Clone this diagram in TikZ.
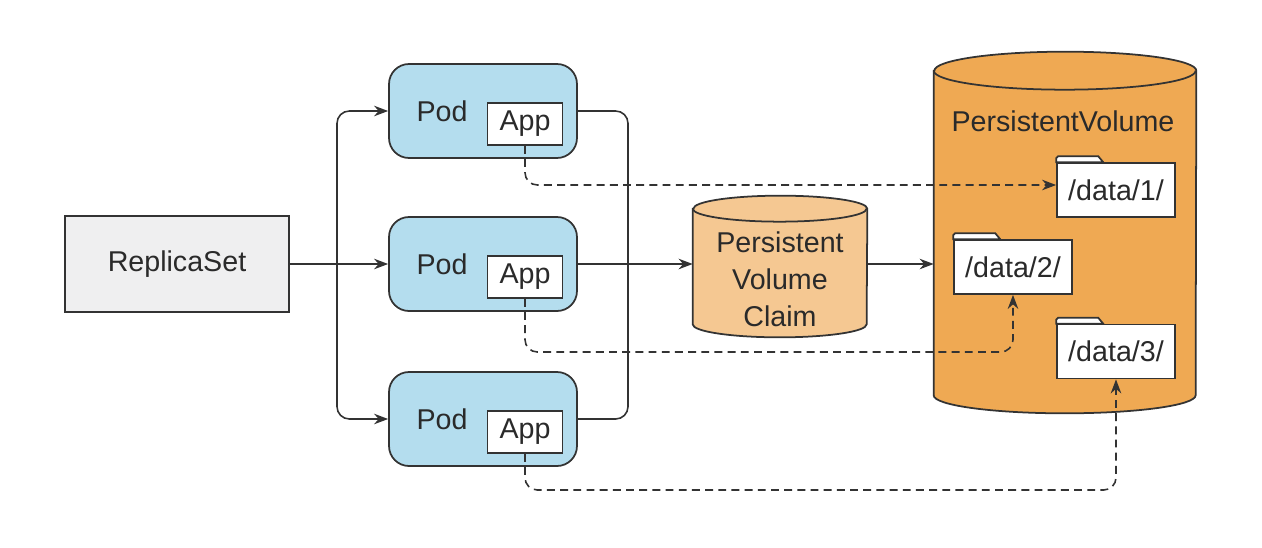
\documentclass[tikz,border=0pt]{standalone}
\usepackage{fontspec}
\setmainfont{Liberation Sans}
\usetikzlibrary{arrows.meta}

\definecolor{linegray}{HTML}{333333}
\definecolor{textgray}{HTML}{2A2A2A}
\definecolor{rsgray}{HTML}{EFEFF0}
\definecolor{podblue}{HTML}{B4DDEE}
\definecolor{pvcorange}{HTML}{F5C892}
\definecolor{pvorange}{HTML}{EFA953}

\tikzset{
  every node/.style={text=textgray, font=\fontsize{16.3}{21}\selectfont},
  rsbox/.style={draw=linegray, line width=1pt, fill=rsgray, minimum width=4.48cm, minimum height=1.92cm},
  pod/.style={draw=linegray, line width=1pt, fill=podblue, rounded corners=0.4cm, minimum width=3.76cm, minimum height=1.88cm},
  app/.style={draw=linegray, line width=1pt, fill=white, inner sep=0pt, minimum width=1.5cm, minimum height=0.84cm},
  folder/.style={draw=linegray, line width=1pt, fill=white, inner sep=0pt, minimum width=2.36cm, minimum height=1.08cm},
  cyl/.style={draw=linegray, line width=1pt},
  link/.style={draw=linegray, line width=0.9pt, -{Stealth[length=8pt,width=6pt]}},
  datalink/.style={link, dash pattern=on 4.5pt off 3pt, rounded corners=7pt},
}

\begin{document}
\begin{tikzpicture}[x=0.02cm, y=-0.02cm]
  \useasboundingbox (0,0) rectangle (1262,548);

  % volumes
  \node[minimum width=5.24cm, minimum height=6.48cm] (pv) at (1065,233) {};
  \filldraw[cyl, fill=pvorange] (pv.north west) -- (pv.south west)
    arc[start angle=180, end angle=360, x radius=2.62cm, y radius=0.36cm]
    -- (pv.north east)
    arc[start angle=0, end angle=180, x radius=2.62cm, y radius=0.38cm] -- cycle;
  \draw[cyl] (pv.north west) arc[start angle=180, end angle=360, x radius=2.62cm, y radius=0.38cm];
  \node (pvlabel) at (1063,121) {PersistentVolume};

  \node[minimum width=3.48cm, minimum height=2.3cm] (pvc) at (780,266.5) {};
  \filldraw[cyl, fill=pvcorange] (pvc.north west) -- (pvc.south west)
    arc[start angle=180, end angle=360, x radius=1.74cm, y radius=0.26cm]
    -- (pvc.north east)
    arc[start angle=0, end angle=180, x radius=1.74cm, y radius=0.26cm] -- cycle;
  \draw[cyl] (pvc.north west) arc[start angle=180, end angle=360, x radius=1.74cm, y radius=0.26cm];
  \node[align=center] (pvclabel) at (780,279) {Persistent\\Volume\\Claim};

  % folders
  \node[folder] (f1) at (1116,190) {/data/1/};
  \node[folder] (f2) at (1013,267) {/data/2/};
  \node[folder] (f3) at (1116,351.5) {/data/3/};
  \foreach \f in {f1,f2,f3} {
    \filldraw[cyl, fill=white] (\f.north west) -- ++(0,-4) -- ++(2,-2) -- ++(40,0) -- ++(5,6) -- cycle;
  }

  % replicaset and pods
  \node[rsbox] (rs) at (177,264) {ReplicaSet};
  \foreach \i/\y in {1/111, 2/264, 3/419} {
    \node[pod] (pod\i) at (483,\y) {};
    \node (podlabel\i) at (442,\y) {Pod};
    \node[app] (app\i) at (525,\y+13) {App};
  }

  \coordinate (split) at (337,264);
  \coordinate (join) at (628,264);
  \coordinate (low2) at (0,352);
  \coordinate (low3) at (0,490);

  \draw[link] (rs) -- (pod2);
  \draw[link, rounded corners=7pt] (split) |- (pod1);
  \draw[link, rounded corners=7pt] (split) |- (pod3);
  \draw[draw=linegray, line width=0.9pt, rounded corners=7pt] (pod1) -| (join) |- (pod3);
  \draw[link] (pod2) -- (pod2 -| pvc.west);
  \draw[link] (pod2 -| pvc.east) -- (pod2 -| pv.west);

  \draw[datalink] (app1) |- ([yshift=0.1cm]f1.west);
  \draw[datalink] (app2) |- (f2 |- low2) -- (f2);
  \draw[datalink] (app3) |- (f3 |- low3) -- (f3);
\end{tikzpicture}
\end{document}
